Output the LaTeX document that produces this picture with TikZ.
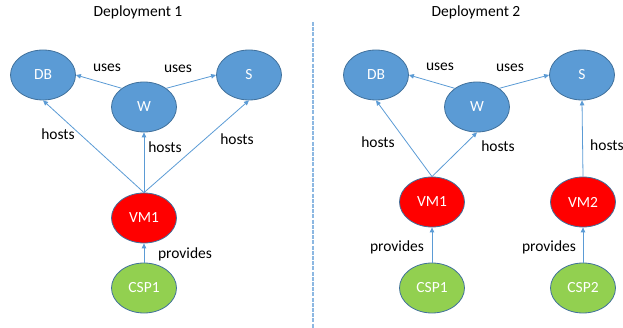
\documentclass[tikz,border=0pt]{standalone}
\usepackage{fontspec}
\setmainfont{Carlito}
\usetikzlibrary{shapes.geometric,arrows.meta}
\definecolor{nodeblue}{HTML}{5B9BD5}
\definecolor{edgeblue}{HTML}{41719C}
\definecolor{nodered}{HTML}{FF0000}
\definecolor{nodegreen}{HTML}{92D050}
\definecolor{linkblue}{HTML}{5B9BD5}
\definecolor{sepblue}{HTML}{8DB8E2}
\begin{document}
\begin{tikzpicture}[x=1pt,y=-1pt,
  every node/.style={font=\fontsize{15.5}{18}\selectfont},
  ent/.style={ellipse,draw=edgeblue,line width=0.8pt,minimum width=65pt,minimum height=50pt,inner sep=0pt,text=white},
  comp/.style={ent,fill=nodeblue},
  vm/.style={ent,fill=nodered},
  csp/.style={ent,fill=nodegreen},
  link/.style={draw=linkblue,line width=0.8pt,-{Triangle[length=5pt,width=4.5pt]}},
  lbl/.style={text=black,inner sep=0pt}]
\useasboundingbox (0,0) rectangle (623,328);

% separator
\draw[sepblue,line width=1.3pt,dash pattern=on 4pt off 1.2pt] (313,22) -- (313,328);

% titles
\node[lbl] (t1) at (138,12) {Deployment 1};
\node[lbl] (t2) at (476,12) {Deployment 2};

% Deployment 1
\node[comp] (db1) at (43,75) {DB};
\node[comp] (w1) at (144,107) {W};
\node[comp] (s1) at (249,75) {S};
\node[vm] (vm1) at (144,218) {VM1};
\node[csp] (csp1) at (144,288) {CSP1};

\draw[link] (w1.140) -- (db1.east);
\draw[link] (w1.40) -- (s1.west);
\draw[link] (vm1.north) -- (db1.south);
\draw[link] (vm1.north) -- (w1.south);
\draw[link] (vm1.north) -- (s1.south);
\draw[link] (csp1.north) -- (vm1.south);

\node[lbl] (u1a) at (107,68) {uses};
\node[lbl] (u1b) at (178,69) {uses};
\node[lbl] (h1a) at (58,134) {hosts};
\node[lbl] (h1b) at (165,147) {hosts};
\node[lbl] (h1c) at (237,139) {hosts};
\node[lbl] (p1) at (185,254) {provides};

% Deployment 2
\node[comp] (db2) at (376,75) {DB};
\node[comp] (w2) at (477,107) {W};
\node[comp] (s2) at (582,75) {S};
\node[vm] (vm21) at (432,202) {VM1};
\node[vm] (vm22) at (583,202) {VM2};
\node[csp] (csp21) at (432,288) {CSP1};
\node[csp] (csp22) at (583,288) {CSP2};

\draw[link] (w2.140) -- (db2.east);
\draw[link] (w2.40) -- (s2.west);
\draw[link] (vm21.north) -- (db2.south);
\draw[link] (vm21.north) -- (w2.south);
\draw[link] (vm22.north) -- (s2.south);
\draw[link] (csp21.north) -- (vm21.south);
\draw[link] (csp22.north) -- (vm22.south);

\node[lbl] (u2a) at (440,67) {uses};
\node[lbl] (u2b) at (510,68) {uses};
\node[lbl] (h2a) at (378,142) {hosts};
\node[lbl] (h2b) at (498,146) {hosts};
\node[lbl,anchor=west] (h2c) at (590,145) {hosts};
\node[lbl] (p2a) at (397,247) {provides};
\node[lbl] (p2b) at (549,247) {provides};
\end{tikzpicture}
\end{document}
